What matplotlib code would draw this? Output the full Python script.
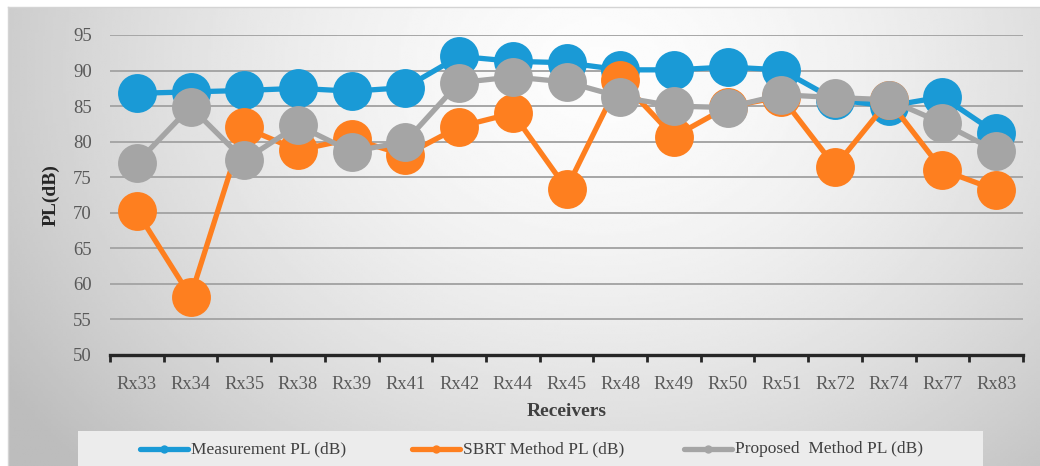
import numpy as np
import matplotlib
matplotlib.use("Agg")
import matplotlib.pyplot as plt
from matplotlib.lines import Line2D
from matplotlib.patches import Rectangle

receivers = ["Rx33", "Rx34", "Rx35", "Rx38", "Rx39", "Rx41", "Rx42", "Rx44", "Rx45",
             "Rx48", "Rx49", "Rx50", "Rx51", "Rx72", "Rx74", "Rx77", "Rx83"]
measurement_pl = [86.8, 87.0, 87.2, 87.5, 87.1, 87.6, 92.0, 91.3, 91.1,
                  90.1, 90.1, 90.5, 90.1, 85.9, 85.0, 86.3, 81.2]
sbrt_pl = [70.2, 58.2, 82.0, 78.8, 80.4, 78.1, 82.1, 84.0, 73.4,
           88.7, 80.7, 84.9, 86.3, 76.5, 85.8, 76.0, 73.2]
proposed_pl = [77.0, 84.9, 77.4, 82.3, 78.6, 80.0, 88.3, 89.1, 88.4,
               86.3, 85.0, 84.8, 86.6, 86.2, 85.9, 82.6, 78.7]
y_ticks = [50, 55, 60, 65, 70, 75, 80, 85, 90, 95]

series = [
    ("Measurement PL (dB)", measurement_pl, "#1a9ad6"),
    ("SBRT Method PL (dB)", sbrt_pl, "#fe7f1f"),
    ("Proposed  Method PL (dB)", proposed_pl, "#a5a5a5"),
]

W, H = 1040, 466
fig = plt.figure(figsize=(W / 100, H / 100), dpi=100, facecolor="white")

serif = ["Liberation Serif", "DejaVu Serif"]
text_col = "#595959"

# soft radial backdrop behind the whole chart area
bg = fig.add_axes([8 / W, 0, 1 - 8 / W, 1 - 7 / H], zorder=-10)
gx, gy = np.meshgrid(np.linspace(8, W, 400), np.linspace(7, H, 200))
r = np.sqrt(((gx - 600) / 640) ** 2 + ((gy - 70) / 520) ** 2)
shade = np.clip(0.99 - 0.21 * r ** 1.6, 0.74, 1.0)
bg.imshow(shade, cmap="gray", vmin=0, vmax=1, aspect="auto",
          extent=[0, 1, 0, 1], origin="upper", interpolation="bilinear")
bg.set_axis_off()
fig.add_artist(Line2D([8 / W, 8 / W], [0, 1 - 7 / H], color="#d4d4d4", lw=1,
                      transform=fig.transFigure))
fig.add_artist(Line2D([8 / W, 1], [1 - 7 / H, 1 - 7 / H], color="#d4d4d4", lw=1,
                      transform=fig.transFigure))

ax = fig.add_axes([110 / W, 1 - 355 / H, (1023 - 110) / W, (355 - 35) / H])
ax.set_facecolor("none")
x = np.arange(len(receivers))

for label, vals, col in series:
    ax.plot(x, vals, color=col, lw=3.8, marker="o", markersize=28,
            markeredgewidth=0, clip_on=False, zorder=3, label=label)

ax.set_xlim(-0.5, len(receivers) - 0.5)
ax.set_ylim(50, 95)
ax.set_yticks(y_ticks)
ax.set_yticklabels([str(v) for v in y_ticks], fontfamily=serif, fontsize=13.5,
                   color=text_col)
ax.tick_params(axis="y", length=0, pad=13)
ax.set_xticks(x)
ax.set_xticklabels(receivers, fontfamily=serif, fontsize=13.3, color=text_col)
ax.set_xticks(np.arange(-0.5, len(receivers)), minor=True)
ax.tick_params(axis="x", which="major", length=0, pad=15)
ax.tick_params(axis="x", which="minor", length=5, width=2, color="#262626",
               direction="out")

for yv in y_ticks[1:]:
    ax.axhline(yv, color="#a6a6a6", lw=1.4, zorder=1)
for side in ("top", "right", "left"):
    ax.spines[side].set_visible(False)
ax.spines["bottom"].set_color("#262626")
ax.spines["bottom"].set_linewidth(2.4)

ax.set_xlabel("Receivers", fontfamily=serif, fontsize=14, fontweight="bold",
              color="#404040", labelpad=7)
ax.set_ylabel("PL(dB)", fontfamily=serif, fontsize=14, fontweight="bold",
              color="#262626", labelpad=10)

# legend strip at the bottom
fig.add_artist(Rectangle((78 / W, 0), (983 - 78) / W, (H - 431) / H,
                         transform=fig.transFigure, facecolor="#ececec",
                         edgecolor="none", zorder=1))
leg_y = 1 - 449 / H
for (label, vals, col), x0 in zip(series, [140, 412, 684]):
    fig.add_artist(Line2D([x0 / W, (x0 + 48) / W], [leg_y, leg_y], color=col,
                          lw=3.8, solid_capstyle="round",
                          transform=fig.transFigure, zorder=2))
    fig.add_artist(Line2D([(x0 + 24) / W], [leg_y], color=col, marker="o",
                          markersize=6, markeredgewidth=0,
                          transform=fig.transFigure, zorder=2))
    fig.text((x0 + 51) / W, leg_y, label, fontfamily=serif, fontsize=12.5,
             color="#404040", va="center", ha="left", zorder=3)

fig.savefig("out.png", dpi=100, facecolor="white")
